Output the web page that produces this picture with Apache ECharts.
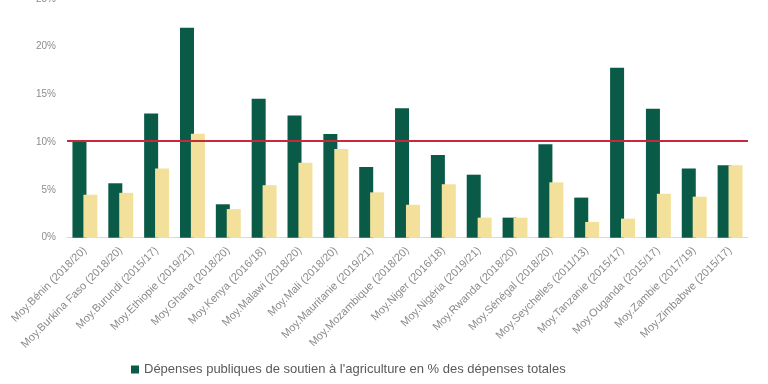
<!DOCTYPE html>
<html><head><meta charset="utf-8">
<script src="https://cdn.jsdelivr.net/npm/echarts@6/dist/echarts.min.js"></script>
<style>html,body{margin:0;padding:0;background:#fff}#c{width:768px;height:384px}</style>
</head><body><div id="c"></div>
<script>
const categories = ["Moy.Bénin (2018/20)","Moy.Burkina Faso (2018/20)","Moy.Burundi (2015/17)","Moy.Ethiopie (2019/21)","Moy.Ghana (2018/20)","Moy.Kenya (2016/18)","Moy.Malawi (2018/20)","Moy.Mali (2018/20)","Moy.Mauritanie (2019/21)","Moy.Mozambique (2018/20)","Moy.Niger (2016/18)","Moy.Nigéria (2019/21)","Moy.Rwanda (2018/20)","Moy.Sénégal (2018/20)","Moy.Seychelles (2011/13)","Moy.Tanzanie (2015/17)","Moy.Ouganda (2015/17)","Moy.Zambie (2017/19)","Moy.Zimbabwe (2015/17)"];
const greenValues = [10.2,5.7,13.0,22.0,3.5,14.55,12.8,10.85,7.4,13.55,8.65,6.6,2.1,9.8,4.2,17.8,13.5,7.25,7.6];
const yellowValues = [4.5,4.7,7.25,10.9,3.0,5.5,7.85,9.3,4.75,3.45,5.6,2.1,2.1,5.8,1.65,2.0,4.6,4.3,7.6];
const targetValue = 10.2;
const yTicks = [0,5,10,15,20,25];
const legendName = "Dépenses publiques de soutien à l'agriculture en % des dépenses totales";

const chart = echarts.init(document.getElementById('c'));
chart.setOption({
  animation:false,
  textStyle:{fontFamily:'Liberation Sans, Arial, sans-serif'},
  grid:{left:67,right:20,top:-1,height:238.7,containLabel:false,outerBoundsMode:'none'},
  legend:{data:[legendName],left:126,top:358,itemWidth:8,itemHeight:8,itemGap:4,icon:'rect',
    textStyle:{color:'#595959',fontSize:13,fontFamily:'Liberation Sans, Arial, sans-serif'}},
  xAxis:{type:'category',data:categories,
    axisLine:{lineStyle:{color:'#d9d9d9',width:1}},axisTick:{show:false},
    axisLabel:{rotate:45,interval:0,color:'#8a8a8a',fontSize:11,margin:11}},
  yAxis:{type:'value',min:yTicks[0],max:yTicks[yTicks.length-1],interval:5,
    axisLine:{show:false},axisTick:{show:false},splitLine:{show:false},
    axisLabel:{color:'#8c8c8c',fontSize:10,margin:11,formatter:v=>v+'%'}},
  series:[
    {name:legendName,type:'bar',data:greenValues,barWidth:14,barGap:'-22%',
      itemStyle:{color:'#0a5a48'},
      markLine:{silent:true,symbol:['none','none'],label:{show:false},
        lineStyle:{color:'#c8283c',width:2,type:'solid'},data:[{yAxis:targetValue}]}},
    {name:'Moyenne',type:'bar',data:yellowValues,barWidth:14,
      itemStyle:{color:'#f3e19b'}}
  ]
});
</script></body></html>
